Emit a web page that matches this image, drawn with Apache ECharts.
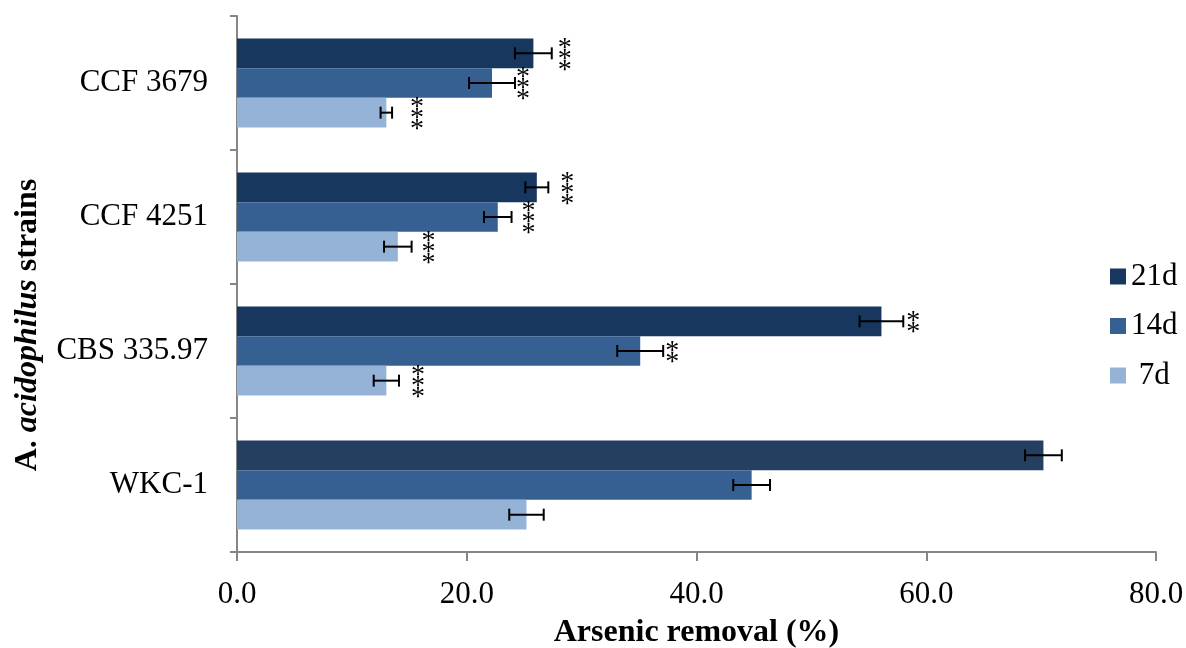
<!DOCTYPE html>
<html>
<head>
<meta charset="utf-8">
<script src="https://cdn.jsdelivr.net/npm/echarts@6/dist/echarts.min.js"></script>
<style>
  html, body { margin: 0; padding: 0; background: #fff; }
  #chart { width: 1186px; height: 648px; }
</style>
</head>
<body>
<div id="chart"></div>
<script>
// Strains on the category axis (bottom to top)
const strains = ['WKC-1', 'CBS 335.97', 'CCF 4251', 'CCF 3679'];

// Arsenic removal (%) per incubation time
const removal21d = [70.2, 56.1, 26.1, 25.8];
const removal14d = [44.8, 35.1, 22.7, 22.2];
const removal7d  = [25.2, 13.0, 14.0, 13.0];

// Standard deviations
const sd21d = [1.6, 1.9, 1.0, 1.6];
const sd14d = [1.6, 2.0, 1.2, 2.0];
const sd7d  = [1.5, 1.1, 1.2, 0.5];

// Significance markers versus WKC-1
const sig21d = ['', '**', '***', '***'];
const sig14d = ['', '**', '***', '***'];
const sig7d  = ['', '***', '***', '***'];

// Value-axis ticks
const xTicks = [0, 20, 40, 60, 80];

// ---- styling ----
const FONT = '"Liberation Serif", "Times New Roman", serif';
const CATEGORY_GAP = 0.336;
const colors = { '21d': '#17375E', '14d': '#376092', '7d': '#95B3D7' };
const referenceStrainDark = '#243F60';
// horizontal spacing (px) between the end of an error bar and its stars
const starGap = {
  '21d': [0, 10, 19, 13],
  '14d': [0, 9, 17, 8],
  '7d':  [0, 19, 17, 25]
};

const periods = [
  { name: '21d', values: removal21d, sd: sd21d, sig: sig21d },
  { name: '14d', values: removal14d, sd: sd14d, sig: sig14d },
  { name: '7d',  values: removal7d,  sd: sd7d,  sig: sig7d }
];

function errorRenderer(slot, period) {
  return function (params, api) {
    const v = api.value(0), c = api.value(1), e = api.value(2);
    const band = api.size([0, 1])[1];
    const groupH = band * (1 - CATEGORY_GAP);
    const barH = groupH / periods.length;
    const cy = api.coord([0, c])[1] - groupH / 2 + (slot + 0.5) * barH;
    const xa = api.coord([v - e, c])[0];
    const xb = api.coord([v + e, c])[0];
    const line = { stroke: '#000', lineWidth: 2 };
    const children = [
      { type: 'line', shape: { x1: xa, y1: cy, x2: xb, y2: cy }, style: line },
      { type: 'line', shape: { x1: xa, y1: cy - 6, x2: xa, y2: cy + 6 }, style: line },
      { type: 'line', shape: { x1: xb, y1: cy - 6, x2: xb, y2: cy + 6 }, style: line }
    ];
    const marks = period.sig[params.dataIndex];
    const n = marks.length;
    for (let i = 0; i < n; i++) {
      children.push({
        type: 'text',
        x: xb + starGap[period.name][params.dataIndex],
        y: cy + (i - (n - 1) / 2) * 11 + 6,
        style: {
          text: '*', fill: '#000', font: '28px ' + FONT,
          align: 'center', verticalAlign: 'middle'
        }
      });
    }
    return { type: 'group', children: children };
  };
}

const series = [];
periods.forEach(function (p) {
  series.push({
    name: p.name,
    type: 'bar',
    barGap: '0%',
    barCategoryGap: (CATEGORY_GAP * 100) + '%',
    itemStyle: { color: colors[p.name] },
    data: p.values.map(function (v, i) {
      if (p.name === '21d' && i === 0) {
        return { value: v, itemStyle: { color: referenceStrainDark } };
      }
      return v;
    }),
    z: 2
  });
});
periods.forEach(function (p, slot) {
  series.push({
    name: p.name + ' sd',
    type: 'custom',
    renderItem: errorRenderer(slot, p),
    encode: { x: 0, y: 1 },
    data: p.values.map(function (v, i) { return [v, i, p.sd[i]]; }),
    z: 5,
    silent: true
  });
});

const chart = echarts.init(document.getElementById('chart'), null, { renderer: 'canvas' });
chart.setOption({
  animation: false,
  backgroundColor: '#fff',
  textStyle: { fontFamily: FONT },
  grid: {
    left: 237, right: 30, top: 16, bottom: 96,
    containLabel: false,
    outerBoundsMode: 'none'
  },
  legend: {
    orient: 'vertical',
    left: 1105,
    top: 256,
    itemWidth: 16,
    itemHeight: 16,
    itemGap: 18.5,
    icon: 'rect',
    data: ['21d', '14d', '7d'],
    formatter: function (name) { return name.length < 3 ? ' ' + name : name; },
    textStyle: { fontFamily: FONT, fontSize: 31, color: '#000' }
  },
  xAxis: {
    type: 'value',
    min: xTicks[0],
    max: xTicks[xTicks.length - 1],
    interval: xTicks[1] - xTicks[0],
    name: 'Arsenic removal (%)',
    nameLocation: 'middle',
    nameGap: 65,
    nameMoveOverlap: false,
    nameTextStyle: { fontFamily: FONT, fontSize: 32, fontWeight: 'bold', color: '#000' },
    axisLine: { show: true, lineStyle: { color: '#868686', width: 2 } },
    axisTick: { show: true, length: 9, lineStyle: { color: '#868686', width: 2 } },
    axisLabel: {
      fontFamily: FONT, fontSize: 31, color: '#000', margin: 27,
      formatter: function (v) { return v.toFixed(1); }
    },
    splitLine: { show: false }
  },
  yAxis: {
    type: 'category',
    data: strains,
    axisLine: { show: true, lineStyle: { color: '#868686', width: 2 } },
    axisTick: { show: true, length: 7, lineStyle: { color: '#868686', width: 2 } },
    axisLabel: { fontFamily: FONT, fontSize: 31, color: '#000', margin: 29 },
    splitLine: { show: false }
  },
  graphic: [{
    type: 'text',
    x: 28,
    y: 325,
    rotation: Math.PI / 2,
    style: {
      text: '{b|A. }{bi|acidophilus}{b| strains}',
      align: 'center',
      verticalAlign: 'middle',
      rich: {
        b: { fontFamily: FONT, fontSize: 32, fontWeight: 'bold', fill: '#000' },
        bi: { fontFamily: FONT, fontSize: 32, fontWeight: 'bold', fontStyle: 'italic', fill: '#000' }
      }
    }
  }],
  series: series
});
</script>
</body>
</html>
